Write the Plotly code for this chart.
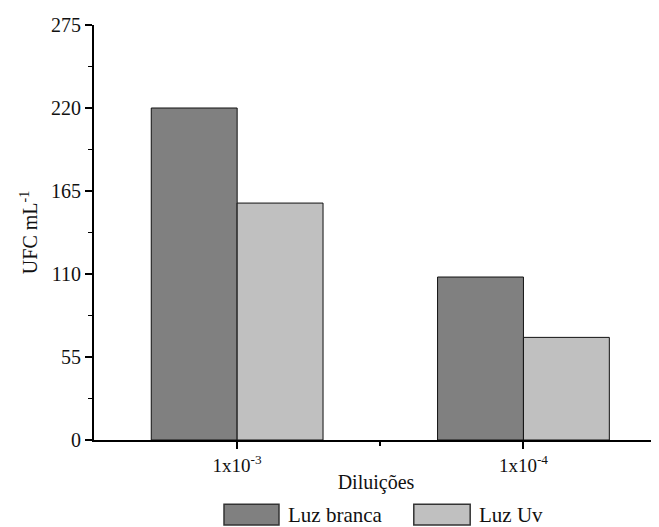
import plotly.graph_objects as go

categories = ["1x10<sup>-3</sup>", "1x10<sup>-4</sup>"]
luz_branca = [220, 108]
luz_uv = [157, 68]
y_ticks = [0, 55, 110, 165, 220, 275]
series_names = ["Luz branca", "Luz Uv"]
series_colors = ["#808080", "#c0c0c0"]

x = list(range(len(categories)))

fig = go.Figure()
for name, vals, col in zip(series_names, [luz_branca, luz_uv], series_colors):
    fig.add_trace(go.Bar(x=x, y=vals, name=name, showlegend=False,
                         marker=dict(color=col, line=dict(color="#111111", width=1))))

font = dict(family="Liberation Serif, Times New Roman, serif", color="#111111")

# Custom legend (wide swatches like the reference)
legend_boxes = [(0.2305, 0.328), (0.567, 0.667)]
for (x0, x1), name, col in zip(legend_boxes, series_names, series_colors):
    fig.add_shape(type="rect", xref="paper", yref="paper", x0=x0, x1=x1, y0=-0.205, y1=-0.155,
                  fillcolor=col, line=dict(color="#333333", width=1.5))
    fig.add_annotation(xref="paper", yref="paper", x=x1 + 0.012, y=-0.180, xanchor="left",
                       yanchor="middle", text=name, showarrow=False, font=dict(size=21, **font))

# page body has an 8px margin; size the figure so the plot area lands where the reference has it
fig.update_layout(
    width=651, height=519,
    margin=dict(l=86, r=1, t=17, b=87),
    paper_bgcolor="white", plot_bgcolor="white",
    barmode="group", bargap=0.4, bargroupgap=0,
    font=dict(size=19, **font),
    showlegend=False,
    xaxis=dict(range=[-0.5, 1.47], tickmode="array", tickvals=x, ticktext=categories,
               automargin=False,
               showline=True, linecolor="black", linewidth=2, ticks="outside",
               ticklen=7, tickwidth=2, tickcolor="black", showgrid=False, zeroline=False,
               minor=dict(ticks="outside", tickvals=[0.5], ticklen=4, tickwidth=2, tickcolor="black"),
               title=dict(text="Diluições", font=dict(size=20, **font), standoff=0),
               tickfont=dict(size=19, **font)),
    yaxis=dict(range=[0, 275], tickmode="array", tickvals=y_ticks,
               automargin=False,
               showline=True, linecolor="black", linewidth=2, ticks="outside",
               ticklen=7, tickwidth=2, tickcolor="black", showgrid=False, zeroline=False,
               minor=dict(ticks="outside", tick0=0, dtick=27.5, ticklen=4, tickwidth=1, tickcolor="black"),
               title=dict(text="UFC mL<sup>-1</sup>", font=dict(size=20, **font), standoff=8),
               tickfont=dict(size=20, **font)),
)

fig.write_html("out.html")
